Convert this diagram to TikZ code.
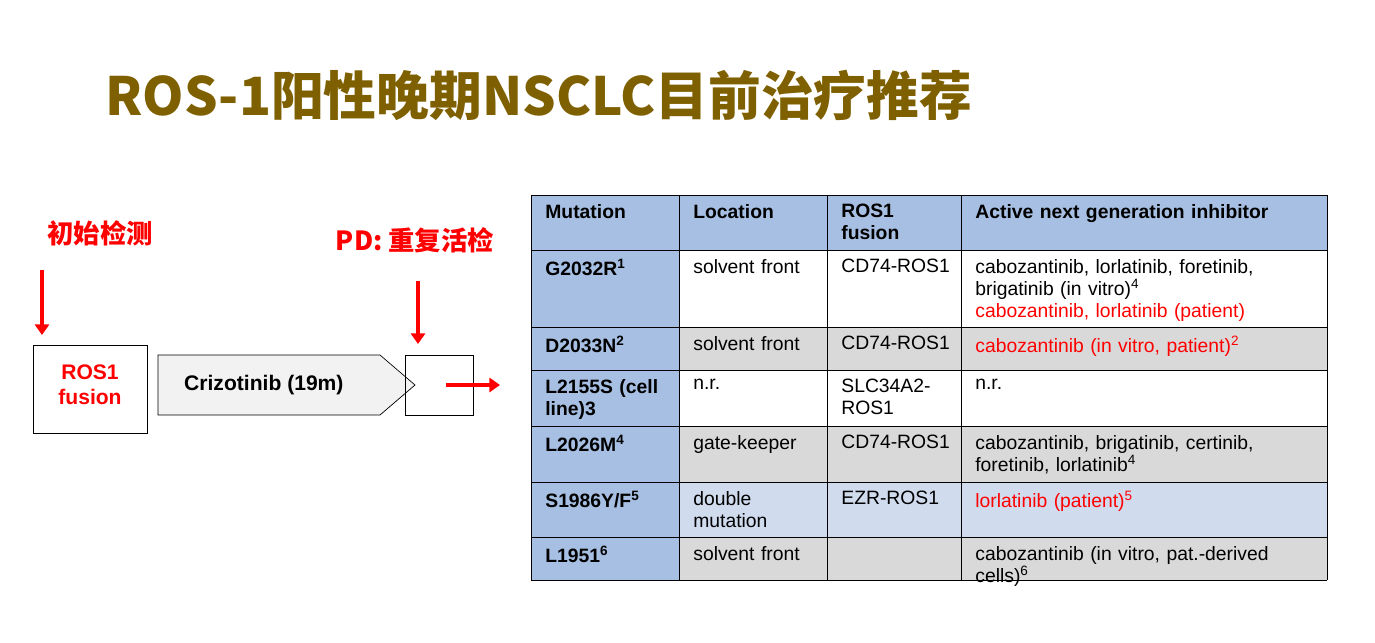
\documentclass[tikz,border=0pt]{standalone}
\usepackage{fontspec}
\setmainfont{Liberation Sans}
\newfontfamily\cjk{Noto Sans CJK SC}
\usetikzlibrary{arrows.meta}
\definecolor{titlec}{HTML}{7F6000}
\definecolor{hblue}{HTML}{A6BFE2}
\definecolor{lblue}{HTML}{D0DBEE}
\definecolor{gr}{HTML}{D9D9D9}
\definecolor{rd}{HTML}{FF0000}
\tikzset{x=0.02cm,y=-0.02cm,
 cell/.style={anchor=north west,align=left,inner sep=0pt,font=\fontsize{11}{12.5}\selectfont,text width=#1},
 cell/.default=4cm,
 rarrow/.style={draw=rd,line width=2pt,-{Triangle[length=6pt,width=8pt]}}}
\begin{document}
\begin{tikzpicture}
\useasboundingbox (0,0) rectangle (1375,642);
\node[font=\cjk\bfseries\fontsize{30}{34}\selectfont,text=titlec,anchor=west,inner sep=0pt] (title) at (105,95) {ROS-1阳性晚期NSCLC目前治疗推荐};
% left
\node[font=\cjk\bfseries\fontsize{15}{18}\selectfont,text=rd] (t1) at (100,233) {初始检测};
\coordinate (a1s) at (42,270); \coordinate (a1e) at (42,335);
\draw[rarrow] (a1s) -- (a1e);
\draw[thin] (33,345) rectangle (147,433);
\node[font=\bfseries\fontsize{12}{14}\selectfont,text=rd,align=center] (rosl) at (90,385) {ROS1\\fusion};
\draw[thin,fill=black!5] (158,355) -- (380,355) -- (415,385) -- (380,415) -- (158,415) -- cycle;
\node[font=\bfseries\fontsize{12}{14}\selectfont,anchor=west] (criz) at (178,385) {Crizotinib (19m)};
\draw[thin] (405,355) rectangle (473,415);
\node[font=\cjk\bfseries\fontsize{15}{18}\selectfont,text=rd] (t2) at (415,240) {PD: 重复活检};
\coordinate (a2s) at (418,281); \coordinate (a2e) at (418,344);
\draw[rarrow] (a2s) -- (a2e);
\coordinate (a3s) at (446,385); \coordinate (a3e) at (500,385);
\draw[rarrow] (a3s) -- (a3e);
% table backgrounds
\fill[hblue] (531,195) rectangle (1327,250);
\fill[gr] (679,327) rectangle (1327,370);
\fill[gr] (679,426) rectangle (1327,482);
\fill[lblue] (679,482) rectangle (1327,537);
\fill[gr] (679,537) rectangle (1327,580);
\fill[hblue] (531,250) rectangle (679,580);
\foreach \y in {195,250,327,370,426,482,537,580} \draw[thin] (531,\y) -- (1327,\y);
\foreach \x in {531,679,827,961,1327} \draw[thin] (\x,195) -- (\x,580);
% header
\node[cell=2.6cm] (h1) at (545,204) {\bfseries Mutation};
\node[cell=2.6cm] (h2) at (693,204) {\bfseries Location};
\node[cell=2.4cm] (h3) at (841,204) {\bfseries ROS1\\fusion};
\node[cell=7cm] (h4) at (975,204) {\bfseries Active next generation inhibitor};
\node[cell=2.6cm] (m1) at (545,259) {\bfseries G2032R\textsuperscript{1}};
\node[cell=2.6cm] (l1) at (693,259) {solvent front};
\node[cell=2.4cm] (f1) at (841,259) {CD74-ROS1};
\node[cell=7cm] (i1) at (975,259) {cabozantinib, lorlatinib, foretinib,\\brigatinib (in vitro)\textsuperscript{4}\\\textcolor{rd}{cabozantinib, lorlatinib (patient)}};
\node[cell=2.6cm] (m2) at (545,336) {\bfseries D2033N\textsuperscript{2}};
\node[cell=2.6cm] (l2) at (693,336) {solvent front};
\node[cell=2.4cm] (f2) at (841,336) {CD74-ROS1};
\node[cell=7cm] (i2) at (975,336) {\textcolor{rd}{cabozantinib (in vitro, patient)\textsuperscript{2}}};
\node[cell=2.7cm] (m3) at (545,379) {\bfseries L2155S (cell\\line)3};
\node[cell=2.6cm] (l3) at (693,379) {n.r.};
\node[cell=2.4cm] (f3) at (841,379) {SLC34A2-\\ROS1};
\node[cell=7cm] (i3) at (975,379) {n.r.};
\node[cell=2.6cm] (m4) at (545,435) {\bfseries L2026M\textsuperscript{4}};
\node[cell=2.6cm] (l4) at (693,435) {gate-keeper};
\node[cell=2.4cm] (f4) at (841,435) {CD74-ROS1};
\node[cell=7cm] (i4) at (975,435) {cabozantinib, brigatinib, certinib,\\foretinib, lorlatinib\textsuperscript{4}};
\node[cell=2.6cm] (m5) at (545,491) {\bfseries S1986Y/F\textsuperscript{5}};
\node[cell=2.6cm] (l5) at (693,491) {double\\mutation};
\node[cell=2.4cm] (f5) at (841,491) {EZR-ROS1};
\node[cell=7cm] (i5) at (975,491) {\textcolor{rd}{lorlatinib (patient)\textsuperscript{5}}};
\node[cell=2.6cm] (m6) at (545,546) {\bfseries L1951\textsuperscript{6}};
\node[cell=2.6cm] (l6) at (693,546) {solvent front};
\node[cell=7cm] (i6) at (975,546) {cabozantinib (in vitro, pat.-derived cells)\textsuperscript{6}};
\end{tikzpicture}
\end{document}
